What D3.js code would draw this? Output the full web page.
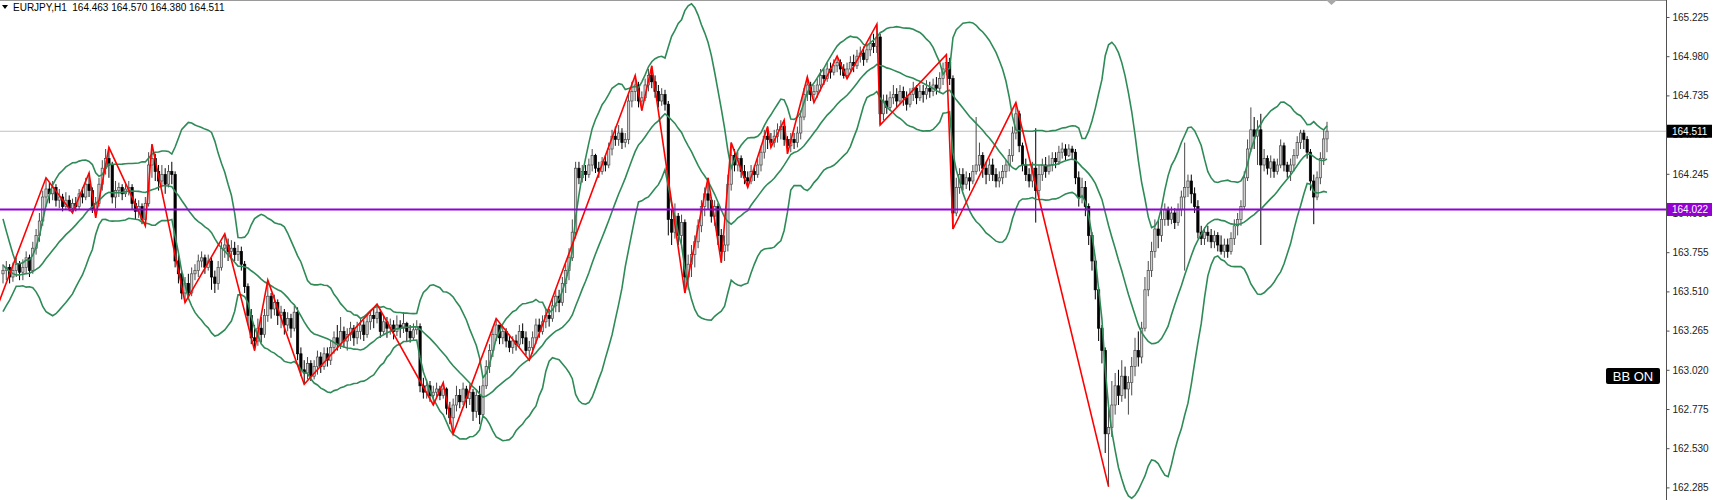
<!DOCTYPE html>
<html><head><meta charset="utf-8">
<script src="https://cdn.jsdelivr.net/npm/d3@7"></script>
<style>
html,body{margin:0;padding:0;background:#fff;}
svg{display:block;font-family:"Liberation Sans",Arial,sans-serif;}
</style></head><body>
<svg id="chart" width="1717" height="500"></svg>
<script>
// ---------- data ----------
const symbolTitle = "EURJPY,H1";
const titleValues = ["164.463", "164.570", "164.380", "164.511"];
const tickLabels = ["165.225","164.980","164.735","164.490","164.245","164.000","163.755","163.510","163.265","163.020","162.775","162.530","162.285"];
const lastPrice = 164.511;
const levelPrice = 164.022;
const bbLabel = "BB ON";
const bbPeriod = 20, bbDev = 2;

// closes before the visible window (only used by the Bollinger band)
const priorCloses = [164.05,163.98,163.92,163.85,163.62,163.58,163.64,163.60,163.55,163.60,163.66,163.62,163.57,163.60,163.64,163.58,163.55,163.60,163.62];

const close = [
163.64,163.66,163.60,163.64,163.68,163.63,163.66,163.72,163.64,163.78,
163.86,163.95,164.10,164.15,164.12,164.16,164.08,164.10,164.04,164.08,
164.03,164.06,164.04,164.12,164.10,164.18,164.14,164.02,164.06,164.18,
164.28,164.34,164.30,164.10,164.14,164.16,164.12,164.15,164.16,164.06,
164.01,164.04,163.96,164.06,164.30,164.34,164.26,164.20,164.24,164.18,
164.26,164.24,163.70,163.62,163.50,163.56,163.50,163.62,163.64,163.70,
163.72,163.66,163.70,163.60,163.56,163.66,163.78,163.80,163.76,163.78,
163.74,163.76,163.68,163.54,163.36,163.22,163.20,163.28,163.24,163.36,
163.48,163.40,163.44,163.36,163.38,163.30,163.34,163.28,163.38,163.12,
163.02,163.00,163.06,162.98,163.04,163.10,163.04,163.12,163.08,163.16,
163.22,163.18,163.26,163.20,163.24,163.28,163.22,163.26,163.30,163.24,
163.32,163.36,163.34,163.38,163.26,163.32,163.28,163.30,163.26,163.30,
163.28,163.31,163.26,163.22,163.27,163.29,162.92,162.88,162.92,162.86,
162.88,162.90,162.86,162.90,162.78,162.72,162.80,162.86,162.82,162.90,
162.84,162.88,162.76,162.86,162.74,162.92,163.04,163.14,163.24,163.30,
163.22,163.26,163.20,163.16,163.20,163.18,163.26,163.22,163.14,163.16,
163.22,163.30,163.26,163.32,163.36,163.34,163.42,163.48,163.44,163.56,
163.64,163.72,163.88,164.28,164.22,164.26,164.24,164.30,164.36,164.28,
164.26,164.32,164.30,164.40,164.48,164.46,164.50,164.44,164.46,164.70,
164.76,164.80,164.70,164.72,164.80,164.86,164.82,164.76,164.70,164.74,
164.68,163.96,163.88,163.98,163.86,163.94,163.60,163.68,163.74,163.82,
163.92,164.04,164.12,164.08,163.98,164.04,163.86,163.76,163.80,164.18,
164.36,164.30,164.34,164.26,164.22,164.20,164.26,164.24,164.30,164.38,
164.48,164.46,164.44,164.48,164.52,164.54,164.46,164.42,164.46,164.44,
164.50,164.60,164.74,164.80,164.74,164.76,164.80,164.86,164.84,164.90,
164.88,164.92,164.94,164.90,164.86,164.90,164.94,164.92,164.98,165.00,
164.96,165.02,165.06,165.04,165.10,164.62,164.70,164.66,164.72,164.74,
164.70,164.76,164.72,164.68,164.74,164.78,164.72,164.76,164.74,164.78,
164.76,164.80,164.78,164.84,164.90,164.94,164.84,164.00,164.16,164.24,
164.18,164.22,164.20,164.26,164.30,164.36,164.28,164.24,164.30,164.24,
164.20,164.22,164.26,164.30,164.36,164.50,164.62,164.42,164.30,164.24,
164.20,164.28,164.14,164.24,164.30,164.26,164.30,164.34,164.32,164.38,
164.40,164.36,164.40,164.38,164.22,164.10,164.16,164.04,163.86,163.70,
163.52,163.28,163.14,162.62,162.66,162.80,162.92,162.86,162.98,162.90,
162.94,163.04,163.14,163.10,163.28,163.52,163.64,163.76,163.90,163.86,
163.96,164.02,163.96,164.00,163.94,164.02,164.10,164.16,164.20,164.12,
164.04,163.88,163.84,163.88,163.86,163.82,163.86,163.80,163.76,163.80,
163.76,163.84,163.92,163.96,164.04,164.22,164.40,164.52,164.48,164.52,
164.30,164.34,164.28,164.32,164.26,164.30,164.42,164.30,164.26,164.30,
164.36,164.44,164.50,164.46,164.38,164.20,164.10,164.22,164.34,164.463,
164.511];

const high = [
163.68,163.70,163.68,163.69,163.72,163.70,163.71,163.76,163.74,163.82,
163.90,164.00,164.14,164.22,164.19,164.20,164.18,164.15,164.12,164.13,
164.11,164.09,164.10,164.15,164.16,164.22,164.25,164.16,164.10,164.22,
164.33,164.40,164.41,164.32,164.20,164.19,164.18,164.19,164.20,164.18,
164.09,164.08,164.06,164.10,164.38,164.43,164.37,164.30,164.30,164.28,
164.30,164.32,164.26,163.74,163.64,163.60,163.62,163.66,163.68,163.74,
163.76,163.74,163.74,163.72,163.64,163.70,163.82,163.87,163.84,163.83,
163.82,163.80,163.79,163.70,163.56,163.40,163.30,163.34,163.35,163.40,
163.58,163.50,163.49,163.46,163.42,163.40,163.38,163.37,163.42,163.41,
163.16,163.08,163.10,163.08,163.08,163.14,163.13,163.16,163.16,163.20,
163.26,163.30,163.35,163.29,163.28,163.32,163.30,163.32,163.34,163.33,
163.36,163.39,163.40,163.43,163.40,163.36,163.35,163.34,163.33,163.36,
163.33,163.38,163.32,163.30,163.31,163.33,163.31,162.97,162.96,162.95,
162.92,162.94,162.92,162.94,162.91,162.82,162.84,162.92,162.90,162.94,
162.92,162.93,162.90,162.90,162.92,162.96,163.08,163.18,163.28,163.34,
163.30,163.29,163.28,163.24,163.23,163.24,163.30,163.31,163.26,163.20,
163.26,163.34,163.34,163.36,163.40,163.40,163.46,163.52,163.52,163.60,
163.68,163.78,163.96,164.32,164.32,164.30,164.30,164.34,164.40,164.37,
164.32,164.35,164.36,164.44,164.52,164.54,164.55,164.53,164.50,164.74,
164.82,164.86,164.82,164.76,164.84,164.90,164.92,164.86,164.80,164.78,
164.77,164.70,164.02,164.06,164.00,163.99,163.96,163.74,163.80,163.86,
163.96,164.08,164.16,164.22,164.10,164.08,164.06,163.90,163.86,164.24,
164.44,164.40,164.38,164.36,164.30,164.26,164.30,164.30,164.34,164.42,
164.52,164.54,164.50,164.52,164.56,164.58,164.58,164.48,164.50,164.50,
164.54,164.64,164.78,164.85,164.82,164.80,164.84,164.90,164.90,164.94,
164.94,164.96,164.98,164.96,164.93,164.94,164.98,164.99,165.02,165.04,
165.04,165.06,165.10,165.12,165.18,165.12,164.74,164.74,164.76,164.80,
164.78,164.80,164.79,164.76,164.78,164.82,164.80,164.80,164.80,164.83,
164.82,164.84,164.85,164.88,164.94,164.99,164.97,164.86,164.22,164.28,
164.28,164.26,164.25,164.30,164.60,164.44,164.38,164.32,164.34,164.34,
164.28,164.26,164.30,164.33,164.40,164.54,164.69,164.64,164.44,164.34,
164.28,164.32,164.53,164.30,164.34,164.35,164.36,164.38,164.38,164.42,
164.44,164.43,164.43,164.42,164.40,164.26,164.22,164.20,164.06,163.88,
163.72,163.54,163.30,163.16,162.80,162.95,163.00,163.02,163.08,163.04,
162.98,163.10,163.22,163.26,163.32,163.60,163.70,163.82,163.96,163.95,
164.02,164.06,164.04,164.04,164.03,164.06,164.14,164.44,164.24,164.24,
164.16,164.08,163.92,163.91,163.92,163.90,163.89,163.88,163.86,163.84,
163.84,163.88,163.96,164.00,164.08,164.26,164.46,164.66,164.60,164.58,
164.62,164.40,164.36,164.36,164.34,164.34,164.46,164.44,164.32,164.34,
164.40,164.48,164.52,164.52,164.48,164.40,164.24,164.26,164.38,164.52,
164.570];

const low = [
163.56,163.58,163.56,163.57,163.60,163.58,163.58,163.62,163.60,163.62,
163.74,163.82,163.92,164.04,164.06,164.08,164.04,164.03,164.01,164.02,
164.01,164.00,164.01,164.02,164.06,164.08,164.10,164.00,163.97,164.04,
164.14,164.24,164.22,164.06,164.03,164.10,164.08,164.10,164.11,164.02,
163.96,163.97,163.93,163.92,164.04,164.22,164.20,164.14,164.16,164.12,
164.16,164.18,163.66,163.56,163.46,163.44,163.46,163.48,163.58,163.60,
163.66,163.62,163.64,163.52,163.50,163.52,163.64,163.72,163.70,163.72,
163.70,163.70,163.64,163.50,163.30,163.18,163.14,163.17,163.19,163.22,
163.32,163.34,163.36,163.30,163.28,163.24,163.26,163.22,163.26,163.08,
162.98,162.93,162.96,162.95,162.96,162.99,163.00,163.02,163.04,163.05,
163.12,163.14,163.15,163.16,163.14,163.20,163.17,163.18,163.21,163.20,
163.22,163.27,163.28,163.31,163.22,163.24,163.22,163.24,163.21,163.23,
163.22,163.25,163.20,163.19,163.20,163.24,162.88,162.84,162.84,162.82,
162.80,162.84,162.83,162.84,162.74,162.68,162.62,162.76,162.78,162.80,
162.78,162.80,162.70,162.72,162.68,162.72,162.90,163.00,163.10,163.20,
163.18,163.18,163.16,163.13,163.12,163.14,163.16,163.18,163.11,163.08,
163.12,163.18,163.22,163.24,163.28,163.29,163.32,163.38,163.38,163.42,
163.50,163.58,163.70,163.84,164.18,164.19,164.20,164.22,164.26,164.25,
164.22,164.24,164.26,164.28,164.36,164.42,164.42,164.40,164.41,164.43,
164.66,164.70,164.66,164.64,164.70,164.76,164.78,164.72,164.66,164.67,
164.64,163.86,163.80,163.84,163.80,163.78,163.50,163.52,163.60,163.66,
163.78,163.88,163.98,164.02,163.94,163.92,163.80,163.69,163.70,163.76,
164.14,164.26,164.26,164.22,164.18,164.16,164.18,164.20,164.22,164.26,
164.34,164.40,164.41,164.41,164.44,164.46,164.42,164.37,164.38,164.40,
164.41,164.46,164.58,164.70,164.70,164.69,164.72,164.76,164.80,164.82,
164.84,164.86,164.88,164.86,164.84,164.84,164.88,164.88,164.90,164.94,
164.92,164.94,164.98,165.00,165.00,164.55,164.58,164.62,164.64,164.68,
164.66,164.68,164.67,164.64,164.66,164.70,164.68,164.70,164.69,164.71,
164.72,164.73,164.74,164.75,164.80,164.86,164.80,163.90,163.98,164.12,
164.14,164.15,164.14,164.18,164.24,164.26,164.22,164.18,164.20,164.20,
164.16,164.16,164.18,164.22,164.26,164.32,164.46,164.38,164.26,164.20,
164.16,164.16,163.94,164.10,164.20,164.22,164.24,164.26,164.28,164.30,
164.34,164.33,164.35,164.33,164.18,164.04,164.06,163.98,163.80,163.64,
163.46,163.20,163.06,162.50,162.29,162.60,162.74,162.80,162.82,162.84,
162.74,162.86,162.98,163.04,163.06,163.26,163.48,163.60,163.72,163.78,
163.82,163.92,163.92,163.93,163.90,163.92,163.98,163.64,164.10,164.06,
164.00,163.84,163.80,163.80,163.82,163.78,163.78,163.76,163.74,163.72,
163.72,163.74,163.80,163.86,163.92,164.02,164.20,164.38,164.40,164.30,
163.80,164.26,164.24,164.22,164.22,164.24,164.28,164.26,164.22,164.20,
164.26,164.34,164.40,164.40,164.34,164.14,163.93,164.08,164.18,164.30,
164.380];

// zigzag turning points: bar index and price
const zzIndex = [-2,13,21,26,28,32,43,45,55,67,76,80,91,113,130,133,136,149,159,191,193,196,206,213,217,220,225,231,232,236,237,243,245,252,255,264,265,285,287,306,334];
const zzPrice = [163.40,164.22,164.00,164.25,163.97,164.41,163.92,164.43,163.44,163.87,163.14,163.58,162.93,163.43,162.80,162.94,162.62,163.34,163.08,164.86,164.64,164.92,163.50,164.22,163.69,164.44,164.16,164.54,164.41,164.58,164.37,164.85,164.69,164.98,164.84,165.18,164.55,164.99,163.90,164.69,162.29];

// ---------- derived ----------
const N = close.length;
const open = close.map((c, i) => i === 0 ? priorCloses[priorCloses.length - 1] : close[i - 1]);
const allCloses = priorCloses.concat(close);
const P = priorCloses.length;
const bands = close.map((c, i) => {
  const w = allCloses.slice(i + P - (bbPeriod - 1), i + P + 1);
  const m = d3.mean(w);
  const sd = Math.sqrt(d3.mean(w, v => (v - m) * (v - m)));
  return { i, mid: m, up: m + bbDev * sd, lo: m - bbDev * sd };
});

// ---------- scales ----------
const W = 1717, H = 500;
const plotRight = 1666;
const x = d3.scaleLinear().domain([0, 400]).range([3, 1327]);
const y = d3.scaleLinear().domain([162.285, 165.225]).range([487.4, 17]);

const svg = d3.select("#chart");
svg.append("rect").attr("width", W).attr("height", H).attr("fill", "#fff");
svg.append("defs").append("clipPath").attr("id", "plotclip")
  .append("rect").attr("x", 0).attr("y", 0).attr("width", plotRight).attr("height", H);

const plot = svg.append("g").attr("clip-path", "url(#plotclip)");

// current price line
plot.append("line").attr("x1", 0).attr("x2", plotRight)
  .attr("y1", y(lastPrice)).attr("y2", y(lastPrice))
  .attr("stroke", "#c0c0c0").attr("stroke-width", 1);

// candles
const cw = 2.3;
const bullStroke = "#4a4a4a", bullFill = "#cfcfcf";
const cg = plot.append("g");
const idx = d3.range(N);
cg.selectAll("line.wick").data(idx).join("line")
  .attr("x1", i => x(i)).attr("x2", i => x(i))
  .attr("y1", i => y(Math.max(high[i], open[i], close[i])))
  .attr("y2", i => y(Math.min(low[i], open[i], close[i])))
  .attr("stroke", i => close[i] >= open[i] ? bullStroke : "#000")
  .attr("stroke-width", 1);
cg.selectAll("rect.body").data(idx).join("rect")
  .attr("x", i => x(i) - cw / 2)
  .attr("width", cw)
  .attr("y", i => y(Math.max(open[i], close[i])))
  .attr("height", i => Math.max(1, Math.abs(y(open[i]) - y(close[i]))))
  .attr("fill", i => close[i] >= open[i] ? bullFill : "#000")
  .attr("stroke", i => close[i] >= open[i] ? bullStroke : "#000")
  .attr("stroke-width", 0.7);

// Bollinger bands
const bandColor = "#2e8b57";
["up", "mid", "lo"].forEach(k => {
  plot.append("path").datum(bands)
    .attr("fill", "none").attr("stroke", bandColor).attr("stroke-width", 1.6)
    .attr("d", d3.line().x(d => x(d.i)).y(d => y(d[k])));
});

// zigzag
const zz = zzIndex.map((k, j) => ({ k, p: zzPrice[j] }));
plot.append("path").datum(zz)
  .attr("fill", "none").attr("stroke", "#ff0000").attr("stroke-width", 1.6)
  .attr("d", d3.line().x(d => x(d.k)).y(d => y(d.p)));

// horizontal level
plot.append("line").attr("x1", 0).attr("x2", plotRight)
  .attr("y1", y(levelPrice)).attr("y2", y(levelPrice))
  .attr("stroke", "#9400d3").attr("stroke-width", 2.2);

// frame
svg.append("line").attr("x1", 0).attr("x2", plotRight).attr("y1", 0.5).attr("y2", 0.5)
  .attr("stroke", "#9a9a9a");
svg.append("line").attr("x1", plotRight + 0.5).attr("x2", plotRight + 0.5).attr("y1", 0).attr("y2", H)
  .attr("stroke", "#505050");

// chart-shift marker
svg.append("path").attr("d", "M1326,0 L1337,0 L1331.5,5 Z").attr("fill", "#a8a8a8");

// price axis
const axis = d3.axisRight(y)
  .tickValues(tickLabels.map(Number))
  .tickFormat(d3.format(".3f"))
  .tickSize(3).tickPadding(3);
const ag = svg.append("g").attr("transform", `translate(${plotRight + 0.5},0)`).call(axis);
ag.select(".domain").remove();
ag.selectAll(".tick line").attr("stroke", "#505050");
ag.selectAll(".tick text").attr("fill", "#222").attr("font-size", 10)
  .attr("font-family", "Liberation Sans, Arial, sans-serif");

// price labels on axis (cover the grid labels beneath them, as in the terminal)
function priceTag(price, fill) {
  const g = svg.append("g");
  g.append("rect").attr("x", plotRight + 1).attr("y", y(price) - 6.5)
    .attr("width", 45).attr("height", 13).attr("fill", fill);
  g.append("text").attr("x", plotRight + 6).attr("y", y(price) + 3.6)
    .attr("fill", "#fff").attr("font-size", 10).text(price.toFixed(3));
}
priceTag(lastPrice, "#000");
priceTag(levelPrice, "#9400d3");

// BB ON label
const bx = 1606, by = 368;
svg.append("rect").attr("x", bx).attr("y", by).attr("width", 54).attr("height", 16)
  .attr("rx", 2).attr("fill", "#000");
svg.append("text").attr("x", bx + 27).attr("y", by + 12.5).attr("text-anchor", "middle")
  .attr("fill", "#fff").attr("font-size", 13).text(bbLabel);

// title
svg.append("path").attr("d", "M2,5 L8,5 L5,9 Z").attr("fill", "#000");
svg.append("text").attr("x", 13).attr("y", 11).attr("font-size", 10).attr("fill", "#000")
  .attr("xml:space", "preserve")
  .text(symbolTitle + "  " + titleValues.join(" "));
</script>
</body></html>
